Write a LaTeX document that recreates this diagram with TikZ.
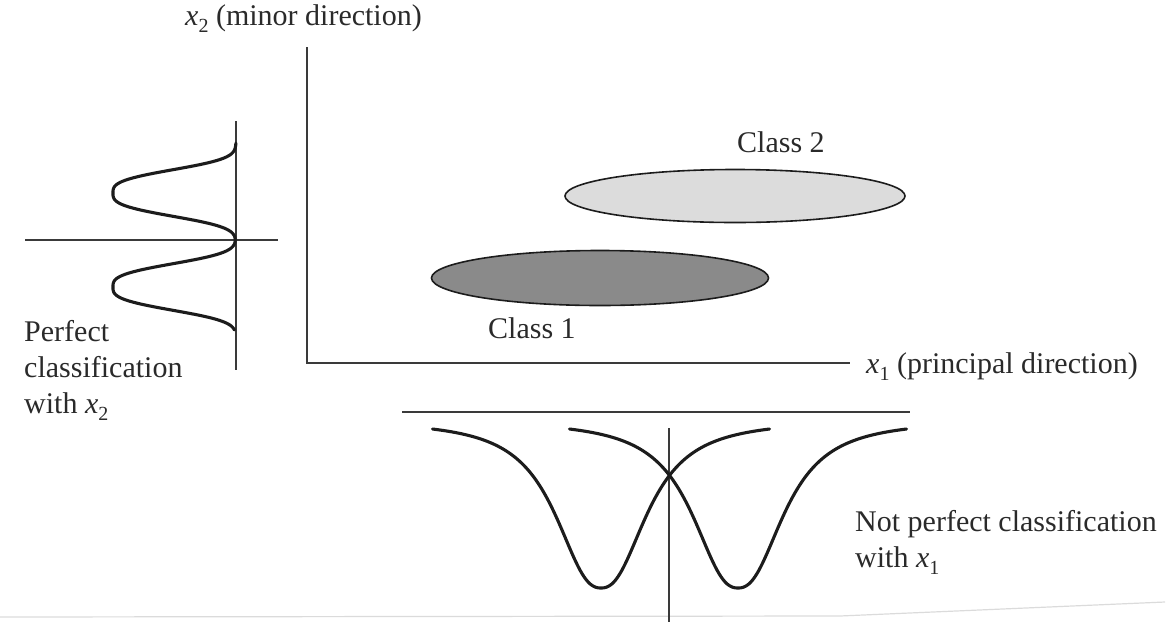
\documentclass[tikz,border=0pt]{standalone}
\usepackage{fontspec}
\setmainfont{Liberation Serif}
\usetikzlibrary{shapes.geometric}
\definecolor{ink}{HTML}{1C1C1C}
\definecolor{txt}{HTML}{2A2A2A}
\definecolor{axis}{HTML}{3A3A3A}
\definecolor{clsone}{HTML}{8A8A8A}
\definecolor{clstwo}{HTML}{DCDCDC}
\newcommand\lbsub[1]{\raisebox{-0.24em}{\fontsize{20}{20}\selectfont #1}}
\newcommand\vx[1]{\textit{x}\lbsub{#1}}
\begin{document}
\begin{tikzpicture}[x=1pt,y=-1pt,
  declare function={
    gl(\t)=exp(-min(pow(abs(\t)/26.6+0.001,3.07),9));
    hb(\t)=1/(1+pow(abs(\t)/51+0.001,2.4));
  },
  thinline/.style={draw=axis,line width=1.3pt},
  curve/.style={draw=ink,line width=3.1pt,line join=round,line cap=round},
  lbl/.style={text=txt,inner sep=0pt,font=\fontsize{30}{36}\selectfont},
  blob/.style={draw=ink,line width=1.6pt}]
\useasboundingbox (0,0) rectangle (1176,622);
% scan edge
\draw[gray!28,line width=1.2pt] (0,617) -- (840,616) -- (1165,602);
% main axes
\coordinate (O) at (307,363);
\coordinate (ytop) at (307,47);
\coordinate (xend) at (850,363);
\draw[thinline] (ytop) -- (O) -- (xend);
\node[lbl,anchor=base west] (x2lab) at (185,25) {\vx{2} (minor direction)};
\node[lbl,anchor=base west] (x1lab) at (866,373) {\vx{1} (principal direction)};
% classes
\node[blob,fill=clstwo,ellipse,minimum width=340pt,minimum height=53pt,inner sep=0pt] (c2) at (735,196) {};
\node[blob,fill=clsone,ellipse,minimum width=337pt,minimum height=55pt,inner sep=0pt] (c1) at (600,278) {};
\node[lbl,anchor=base west] (c2lab) at (737,152) {Class 2};
\node[lbl,anchor=base west] (c1lab) at (488,338) {Class 1};
% left projection (x2)
\coordinate (lvt) at (236,121);
\coordinate (lvb) at (236,370);
\coordinate (lhl) at (25,240);
\coordinate (lhr) at (278,240);
\draw[thinline] (lvt) -- (lvb);
\draw[thinline] (lhl) -- (lhr);
\draw[curve] plot[domain=143:330,samples=190] ({236-123*(gl(\x-193)+gl(\x-287))},\x);
\node[lbl,anchor=base west] (pf1) at (24,341) {Perfect};
\node[lbl,anchor=base west] (pf2) at (24,377) {classification};
\node[lbl,anchor=base west] (pf3) at (24,413) {with \vx{2}};
% bottom projection (x1)
\coordinate (bhl) at (402,412);
\coordinate (bhr) at (910,412);
\coordinate (bvt) at (669,428);
\coordinate (bvb) at (669,622);
\draw[thinline] (bhl) -- (bhr);
\draw[thinline] (bvt) -- (bvb);
\draw[curve] plot[domain=-168.5:168.5,samples=170] ({601+\x},{420+168*hb(\x)});
\draw[curve] plot[domain=-168.5:168.5,samples=170] ({738+\x},{420+168*hb(\x)});
\node[lbl,anchor=base west] (np1) at (855,531) {Not perfect classification};
\node[lbl,anchor=base west] (np2) at (855,567) {with \vx{1}};
\end{tikzpicture}
\end{document}
